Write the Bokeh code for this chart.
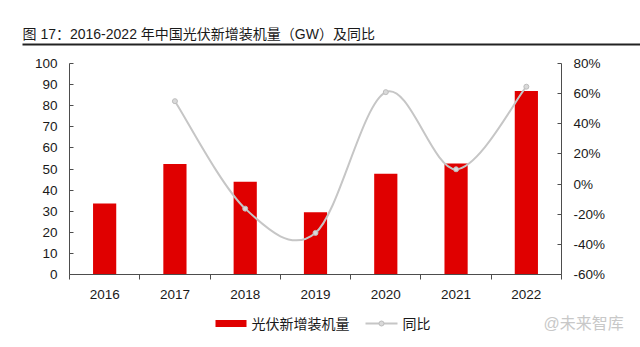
from bokeh.plotting import figure
from bokeh.layouts import column, row
from bokeh.models import Range1d, LinearAxis, FixedTicker
from bokeh.core.properties import value
from bokeh.embed import file_html
from bokeh.resources import INLINE

# ---- data ----
years = ["2016", "2017", "2018", "2019", "2020", "2021", "2022"]
installs = [33.6, 52.4, 43.9, 29.5, 47.7, 52.6, 87.0]          # GW
yoy = [None, 55.0, -16.3, -32.4, 61.0, 9.8, 64.6]               # %
left_ticks = [0, 10, 20, 30, 40, 50, 60, 70, 80, 90, 100]
right_ticks = [-60, -40, -20, 0, 20, 40, 60, 80]
right_labels = ["-60%", "-40%", "-20%", "0%", "20%", "40%", "60%", "80%"]
title_text = "图 17：2016-2022 年中国光伏新增装机量（GW）及同比"
bar_name = "光伏新增装机量"
line_name = "同比"
watermark = "@未来智库"

FONT = "'Liberation Sans', 'Noto Sans CJK SC'"
BAR_COLOR = "#E00000"
LINE_COLOR = "#C6C6C6"
AXIS_COLOR = "#4D4D4D"
TEXT_COLOR = "#1a1a1a"

W = 640
HEAD_H = 50
FOOT_H = 39
MAIN_H = 347 - HEAD_H - FOOT_H


def blank(h):
    f = figure(width=W, height=h, output_backend="svg", toolbar_location=None,
               x_range=Range1d(0, W), y_range=Range1d(0, h),
               min_border_left=0, min_border_right=0,
               min_border_top=0, min_border_bottom=0)
    f.axis.visible = False
    f.grid.visible = False
    f.outline_line_color = None
    f.background_fill_color = "white"
    f.border_fill_color = "white"
    return f


# ---- header: title + rule ----
head = blank(HEAD_H)
head.text(x=[22], y=[HEAD_H - 33], text=[title_text], text_font=value(FONT),
          text_font_size="14px", text_color=TEXT_COLOR, text_baseline="middle",
          text_align="left")
head.segment(x0=[22], y0=[HEAD_H - 44], x1=[W], y1=[HEAD_H - 44],
             line_color="#222222", line_width=2)

# ---- main chart ----
xs = list(range(len(years)))
p = figure(width=W, height=MAIN_H, output_backend="svg", toolbar_location=None,
           x_range=Range1d(-0.5, len(years) - 0.5), y_range=Range1d(0, 100),
           min_border_left=69, min_border_right=79, min_border_top=63 - HEAD_H,
           min_border_bottom=(HEAD_H + MAIN_H) - 274)
p.outline_line_color = None
p.xgrid.visible = False
p.ygrid.visible = False
p.background_fill_color = "white"
p.border_fill_color = "white"

p.vbar(x=xs, top=installs, width=0.33, fill_color=BAR_COLOR, line_color=None)

# smoothed yoy line (Catmull-Rom -> cubic bezier, like a spreadsheet's smoothed line)
p.extra_y_ranges = {"yoy": Range1d(-60, 80)}
pts = [(x, y) for x, y in zip(xs, yoy) if y is not None]
bx0, by0, bx1, by1, bcx0, bcy0, bcx1, bcy1 = [], [], [], [], [], [], [], []
for i in range(len(pts) - 1):
    p0 = pts[i - 1] if i > 0 else pts[i]
    p1 = pts[i]
    p2 = pts[i + 1]
    p3 = pts[i + 2] if i + 2 < len(pts) else pts[i + 1]
    bx0.append(p1[0]); by0.append(p1[1])
    bx1.append(p2[0]); by1.append(p2[1])
    bcx0.append(p1[0] + (p2[0] - p0[0]) / 6); bcy0.append(p1[1] + (p2[1] - p0[1]) / 6)
    bcx1.append(p2[0] - (p3[0] - p1[0]) / 6); bcy1.append(p2[1] - (p3[1] - p1[1]) / 6)
p.bezier(x0=bx0, y0=by0, x1=bx1, y1=by1, cx0=bcx0, cy0=bcy0, cx1=bcx1, cy1=bcy1,
         line_color=LINE_COLOR, line_width=2, y_range_name="yoy")
p.scatter(x=[q[0] for q in pts], y=[q[1] for q in pts], size=5, marker="circle",
          fill_color="#D9D9D9", line_color="#BDBDBD", line_width=1, y_range_name="yoy")


def style_axis(ax):
    ax.axis_line_color = AXIS_COLOR
    ax.axis_line_width = 1
    ax.major_tick_line_color = AXIS_COLOR
    ax.major_label_text_font = FONT
    ax.major_label_text_font_size = "13.5px"
    ax.major_label_text_color = TEXT_COLOR
    ax.minor_tick_line_color = None


yl = p.yaxis[0]
yl.ticker = FixedTicker(ticks=left_ticks)
style_axis(yl)
yl.major_tick_in = 4
yl.major_tick_out = 0
yl.major_label_standoff = 12

yr = LinearAxis(y_range_name="yoy", ticker=FixedTicker(ticks=right_ticks),
                major_label_overrides={t: s for t, s in zip(right_ticks, right_labels)})
style_axis(yr)
yr.major_tick_in = 4
yr.major_tick_out = 0
yr.major_label_standoff = 12
p.add_layout(yr, "right")

xa = p.xaxis[0]
xa.ticker = FixedTicker(ticks=xs, minor_ticks=[x - 0.5 for x in xs] + [xs[-1] + 0.5])
style_axis(xa)
xa.major_label_overrides = {x: y for x, y in zip(xs, years)}
xa.major_tick_line_color = None
xa.minor_tick_line_color = AXIS_COLOR
xa.minor_tick_in = 0
xa.minor_tick_out = 5
xa.major_label_standoff = 9

# ---- footer: legend + watermark ----
foot = blank(FOOT_H)
ly = FOOT_H - (323 - (HEAD_H + MAIN_H))
foot.quad(left=[215], right=[246], bottom=[ly - 3.5], top=[ly + 3.5],
          fill_color=BAR_COLOR, line_color=None)
foot.text(x=[251], y=[ly], text=[bar_name], text_font=value(FONT),
          text_font_size="14px", text_color=TEXT_COLOR, text_baseline="middle")
foot.segment(x0=[365], y0=[ly], x1=[397], y1=[ly], line_color=LINE_COLOR, line_width=2)
foot.scatter(x=[381], y=[ly], size=5, marker="circle", fill_color="#D9D9D9",
             line_color="#BDBDBD", line_width=1)
foot.text(x=[402], y=[ly], text=[line_name], text_font=value(FONT),
          text_font_size="14px", text_color=TEXT_COLOR, text_baseline="middle")
foot.text(x=[543], y=[ly], text=[watermark], text_font=value(FONT),
          text_font_size="16px", text_color="#C8C8C8", text_baseline="middle")

layout = column(row(head, spacing=0), p, row(foot, spacing=0), spacing=0)
open("out.html", "w").write(file_html(layout, INLINE))
